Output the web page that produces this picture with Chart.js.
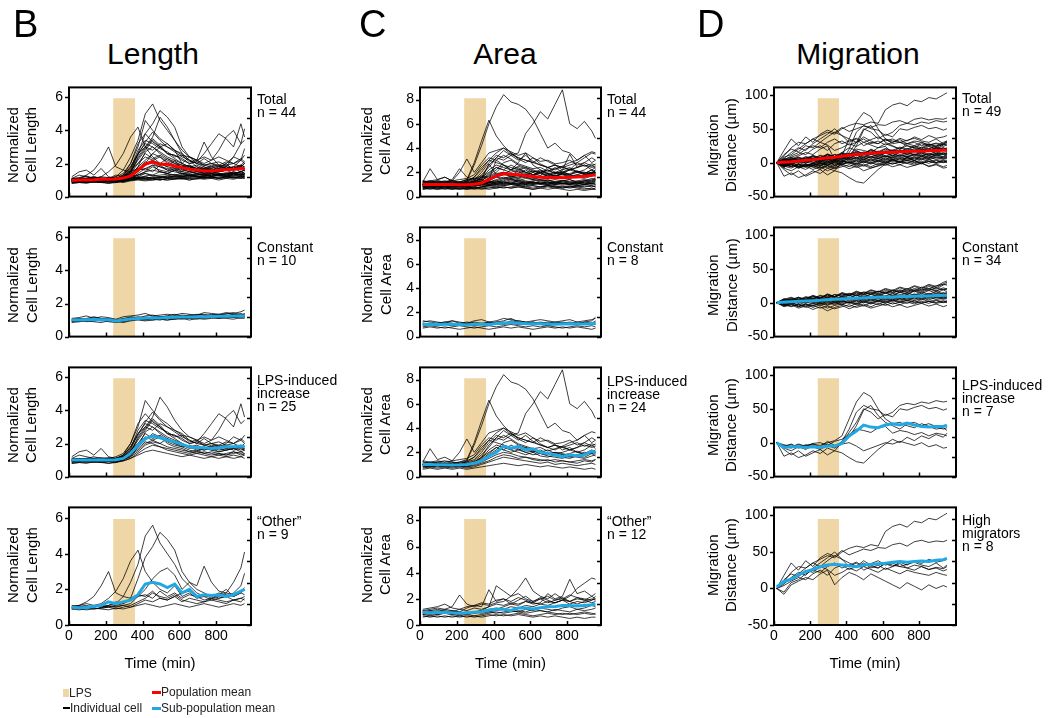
<!DOCTYPE html>
<html lang="en">
  <head>
    <meta charset="UTF-8" />
    <title>LPS cell shape and migration</title>
    <script src="https://cdn.jsdelivr.net/npm/chart.js"></script>
    <style>
      body {
        margin: 0;
        width: 1052px;
        height: 718px;
        background: #fff;
        position: relative;
        overflow: hidden;
        font-family: "Liberation Sans", Arial, sans-serif;
        color: #000;
      }
      canvas,
      .txt {
        position: absolute;
      }
      .letter {
        font-size: 38px;
        line-height: 38px;
      }
      .title {
        font-size: 30px;
        line-height: 30px;
        width: 200px;
        text-align: center;
      }
      .ytitle {
        font-size: 15px;
        line-height: 18.5px;
        width: 37px;
        height: 160px;
        text-align: center;
        writing-mode: vertical-rl;
        transform: rotate(180deg);
        white-space: nowrap;
      }
      .xtitle {
        font-size: 15px;
        line-height: 16px;
        width: 180px;
        text-align: center;
      }
      .group {
        font-size: 14px;
        line-height: 13px;
        white-space: nowrap;
      }
      .legend {
        font-size: 12px;
        line-height: 14px;
        color: #222;
        white-space: nowrap;
      }
      .key {
        position: absolute;
      }
    </style>
  </head>
  <body>
    <script>
      // time axis shared by every trace (min)
      const timePoints = [15, 55, 95, 135, 175, 215, 255, 295, 335, 375, 415, 455, 495, 535, 575, 615, 655, 695, 735, 775, 815, 855, 895, 935, 955];
      const lpsStart = 240;
      const lpsEnd = 360;
      const lpsLevel = 1;

      // tick labels
      const timeTicks = [0, 200, 400, 600, 800];
      const lengthTicks = [0, 2, 4, 6];
      const areaTicks = [0, 2, 4, 6, 8];
      const migrationTicks = [-50, 0, 50, 100];
      const lpsAxisTicks = [0, 0.2, 0.4, 0.6, 0.8, 1.0];

      // ---- cell length ----
      const lengthConstant = [
        [1.0, 0.95, 1.05, 1.0, 1.1, 1.0, 0.95, 1.05, 1.1, 1.15, 1.2, 1.1, 1.15, 1.2, 1.25, 1.2, 1.3, 1.25, 1.2, 1.3, 1.35, 1.25, 1.3, 1.4, 1.3],
        [0.9, 1.0, 0.9, 0.95, 1.0, 0.9, 0.85, 0.95, 1.0, 1.05, 1.0, 1.1, 1.05, 1.0, 1.1, 1.15, 1.1, 1.05, 1.15, 1.2, 1.1, 1.15, 1.2, 1.1, 1.15],
        [1.1, 1.15, 1.25, 1.1, 1.2, 1.15, 1.05, 1.2, 1.25, 1.3, 1.4, 1.25, 1.3, 1.35, 1.3, 1.4, 1.35, 1.3, 1.45, 1.4, 1.35, 1.45, 1.4, 1.5, 1.6],
        [0.95, 0.9, 1.0, 1.05, 0.95, 1.0, 0.9, 1.0, 1.05, 1.1, 1.05, 1.15, 1.2, 1.1, 1.15, 1.1, 1.2, 1.25, 1.15, 1.2, 1.3, 1.2, 1.25, 1.3, 1.2],
        [1.05, 1.1, 1.0, 1.15, 1.05, 1.1, 1.0, 0.95, 1.1, 1.2, 1.15, 1.1, 1.2, 1.25, 1.2, 1.3, 1.25, 1.35, 1.3, 1.25, 1.3, 1.4, 1.35, 1.3, 1.4],
        [0.85, 0.9, 0.95, 0.9, 0.85, 0.95, 0.9, 0.85, 0.95, 1.0, 0.95, 1.0, 1.05, 1.0, 1.05, 1.1, 1.0, 1.1, 1.05, 1.1, 1.15, 1.1, 1.05, 1.15, 1.1],
        [1.0, 1.05, 1.1, 1.2, 1.1, 1.05, 1.0, 1.1, 1.15, 1.1, 1.25, 1.3, 1.2, 1.15, 1.25, 1.2, 1.3, 1.2, 1.25, 1.35, 1.3, 1.25, 1.35, 1.3, 1.35],
        [0.95, 1.0, 0.95, 1.0, 1.05, 0.95, 0.9, 0.95, 1.0, 1.1, 1.05, 1.0, 1.1, 1.15, 1.1, 1.05, 1.15, 1.2, 1.1, 1.15, 1.2, 1.25, 1.15, 1.2, 1.25],
        [1.05, 0.95, 1.05, 1.1, 1.0, 1.05, 0.95, 1.05, 1.2, 1.15, 1.1, 1.2, 1.15, 1.25, 1.35, 1.25, 1.2, 1.3, 1.35, 1.25, 1.3, 1.35, 1.45, 1.3, 1.35],
        [0.9, 0.95, 1.0, 0.95, 1.0, 1.05, 0.95, 0.9, 1.0, 1.05, 1.1, 1.05, 1.0, 1.1, 1.05, 1.15, 1.1, 1.15, 1.2, 1.15, 1.1, 1.2, 1.15, 1.25, 1.2],
      ];
      const lengthLps = [
        [1.0, 1.05, 0.95, 1.0, 1.05, 1.0, 1.1, 1.3, 1.8, 2.6, 3.2, 3.0, 2.7, 2.4, 2.2, 2.0, 1.8, 1.9, 1.7, 1.8, 1.6, 1.7, 1.8, 1.6, 1.7],
        [0.9, 0.95, 1.0, 0.9, 0.95, 0.9, 1.0, 1.2, 1.5, 2.2, 2.8, 3.4, 3.0, 2.6, 2.5, 2.2, 2.0, 2.1, 1.9, 1.8, 1.9, 1.7, 1.8, 1.9, 1.8],
        [1.1, 1.3, 1.2, 1.1, 1.0, 1.1, 1.2, 1.4, 2.0, 3.0, 4.6, 4.0, 3.5, 3.2, 2.8, 2.6, 2.2, 2.0, 2.3, 2.0, 1.9, 2.1, 2.0, 1.8, 2.0],
        [0.8, 0.85, 0.9, 0.85, 0.9, 0.8, 0.85, 1.0, 1.3, 1.8, 2.2, 2.6, 2.4, 2.0, 1.8, 1.7, 1.5, 1.6, 1.4, 1.5, 1.4, 1.3, 1.5, 1.4, 1.3],
        [1.0, 1.1, 1.0, 1.05, 1.0, 1.1, 1.0, 1.1, 1.4, 2.4, 3.0, 3.6, 4.8, 4.2, 3.4, 2.8, 2.4, 2.2, 1.9, 2.0, 1.8, 1.9, 1.7, 1.8, 1.7],
        [1.2, 1.5, 1.6, 1.3, 1.7, 1.2, 1.1, 1.2, 1.6, 2.0, 2.6, 2.3, 2.5, 2.2, 2.0, 1.8, 1.9, 1.7, 1.6, 1.8, 1.7, 1.6, 1.7, 1.9, 1.8],
        [0.9, 0.9, 0.95, 1.0, 0.9, 0.95, 0.9, 1.0, 1.2, 1.5, 1.9, 2.1, 2.0, 1.8, 1.7, 1.6, 1.5, 1.4, 1.5, 1.4, 1.3, 1.4, 1.5, 1.3, 1.4],
        [1.0, 0.95, 1.0, 1.1, 1.05, 1.0, 1.05, 1.2, 1.7, 2.8, 3.4, 3.2, 2.9, 2.7, 2.4, 2.5, 2.1, 2.2, 2.4, 2.2, 2.8, 3.6, 4.0, 3.2, 3.4],
        [1.05, 1.0, 1.1, 1.0, 1.05, 1.1, 1.0, 1.1, 1.5, 2.3, 2.9, 3.5, 3.1, 2.6, 2.3, 2.0, 1.8, 1.7, 1.8, 1.6, 1.7, 1.8, 1.6, 1.7, 1.6],
        [0.95, 1.0, 0.9, 1.0, 0.95, 1.0, 0.95, 1.0, 1.3, 1.6, 2.0, 2.2, 2.4, 2.1, 1.9, 1.8, 1.6, 1.5, 1.7, 1.6, 1.5, 1.6, 1.7, 1.5, 1.6],
        [1.0, 1.05, 1.1, 1.05, 1.0, 1.05, 1.1, 1.3, 2.0, 3.2, 3.8, 3.3, 3.0, 2.6, 2.5, 2.3, 2.0, 2.1, 2.6, 3.2, 3.8, 3.5, 3.0, 4.4, 3.6],
        [0.85, 0.9, 0.85, 0.9, 0.85, 0.9, 0.85, 0.95, 1.1, 1.4, 1.7, 1.9, 1.8, 1.6, 1.5, 1.4, 1.3, 1.4, 1.3, 1.2, 1.3, 1.2, 1.3, 1.2, 1.3],
        [1.1, 1.05, 1.1, 1.2, 1.1, 1.15, 1.1, 1.2, 1.6, 2.6, 3.0, 2.8, 3.2, 3.0, 2.7, 2.4, 2.2, 2.0, 1.9, 2.0, 2.1, 1.9, 2.0, 2.2, 2.0],
        [0.9, 1.0, 0.95, 0.9, 1.0, 0.95, 1.0, 1.1, 1.4, 2.0, 2.4, 2.2, 2.0, 2.3, 2.1, 1.9, 1.7, 1.8, 1.6, 1.7, 1.5, 1.6, 1.7, 1.8, 1.6],
        [1.0, 0.9, 1.0, 0.95, 1.0, 0.9, 0.95, 1.05, 1.2, 1.8, 2.7, 3.0, 2.6, 2.3, 2.0, 1.9, 1.8, 1.6, 1.7, 1.9, 1.8, 2.0, 2.4, 2.2, 2.5],
        [0.95, 1.0, 1.05, 1.0, 0.95, 1.0, 1.05, 1.1, 1.3, 1.7, 2.1, 2.0, 1.8, 1.7, 1.6, 1.5, 1.4, 1.5, 1.4, 1.3, 1.4, 1.3, 1.4, 1.5, 1.4],
        [1.05, 1.1, 1.0, 1.1, 1.15, 1.05, 1.1, 1.25, 1.8, 2.5, 3.3, 3.9, 3.4, 3.0, 2.8, 2.5, 2.4, 2.2, 2.0, 2.2, 2.4, 2.2, 2.0, 2.3, 2.1],
        [0.8, 0.85, 0.8, 0.9, 0.85, 0.8, 0.9, 0.95, 1.1, 1.3, 1.5, 1.6, 1.5, 1.4, 1.3, 1.2, 1.3, 1.2, 1.1, 1.2, 1.1, 1.2, 1.1, 1.2, 1.1],
      ];
      const lengthOther = [
        [1.0, 1.1, 1.3, 1.6, 2.2, 3.0, 1.8, 1.6, 1.5, 1.7, 1.6, 1.9, 1.5, 1.4, 1.6, 1.3, 1.5, 1.4, 1.3, 1.5, 1.4, 1.3, 1.4, 1.5, 1.4],
        [0.9, 1.0, 0.95, 1.1, 1.2, 1.5, 1.9, 2.6, 3.6, 4.2, 3.0, 2.4, 2.0, 1.8, 2.2, 1.6, 1.8, 1.5, 1.6, 1.4, 1.5, 1.6, 1.4, 1.5, 1.6],
        [1.0, 0.95, 1.0, 1.05, 1.0, 1.1, 1.2, 1.6, 2.4, 3.4, 5.0, 5.6, 4.6, 4.0, 3.4, 2.6, 2.2, 1.8, 1.6, 1.7, 1.5, 1.6, 1.8, 2.2, 2.9],
        [1.1, 1.05, 1.0, 1.1, 1.0, 1.05, 1.1, 1.2, 1.5, 2.6, 3.8, 4.4, 5.2, 4.8, 4.2, 3.0, 2.4, 2.0, 1.8, 1.6, 1.8, 1.7, 1.6, 1.8, 2.0],
        [0.9, 0.95, 1.0, 0.9, 0.95, 1.0, 1.05, 1.1, 1.2, 1.6, 2.0, 2.6, 3.0, 3.2, 2.8, 2.0, 2.4, 2.2, 3.3, 2.4, 1.9, 1.8, 1.7, 1.9, 2.1],
        [1.0, 1.05, 1.1, 1.0, 1.1, 1.05, 1.0, 1.1, 1.0, 1.2, 1.4, 1.3, 1.5, 1.4, 1.6, 1.8, 1.9, 1.6, 1.7, 1.5, 1.6, 1.8, 2.4, 3.2, 4.1],
        [0.95, 0.9, 0.85, 0.9, 0.95, 1.0, 0.9, 1.0, 1.1, 1.3, 1.5, 1.8, 1.6, 1.5, 1.7, 1.4, 1.3, 1.2, 1.3, 1.4, 1.3, 1.2, 1.4, 1.3, 1.5],
        [1.05, 1.1, 1.2, 1.1, 1.0, 1.1, 1.3, 1.2, 1.4, 1.6, 1.7, 1.5, 1.9, 1.6, 1.8, 1.5, 1.7, 1.6, 1.4, 1.5, 1.7, 2.0, 1.6, 1.8, 1.7],
        [0.9, 0.85, 0.9, 0.95, 0.9, 0.85, 0.95, 0.9, 1.0, 1.1, 1.2, 1.1, 1.0, 1.1, 1.2, 1.1, 1.0, 1.1, 1.2, 1.1, 1.0, 1.1, 1.2, 1.1, 1.2],
      ];
      const lengthMeanTotal = [0.98, 1.0, 1.0, 1.02, 1.05, 1.05, 1.07, 1.12, 1.25, 1.6, 1.95, 2.1, 1.95, 1.95, 1.85, 1.75, 1.65, 1.6, 1.55, 1.55, 1.6, 1.62, 1.65, 1.7, 1.7];
      const lengthMeanConstant = [1.0, 1.0, 1.02, 1.03, 1.02, 1.02, 0.95, 1.0, 1.07, 1.1, 1.12, 1.12, 1.13, 1.15, 1.17, 1.18, 1.18, 1.2, 1.2, 1.22, 1.23, 1.23, 1.24, 1.26, 1.25];
      const lengthMeanLps = [1.0, 1.0, 1.0, 1.0, 1.0, 1.0, 1.02, 1.1, 1.4, 1.9, 2.3, 2.45, 2.35, 2.2, 2.1, 1.95, 1.8, 1.75, 1.75, 1.7, 1.75, 1.8, 1.8, 1.85, 1.8];
      const lengthMeanOther = [1.0, 0.97, 0.97, 1.05, 1.1, 1.3, 1.2, 1.3, 1.4, 1.7, 2.3, 2.4, 2.3, 2.1, 2.3, 1.8, 2.0, 1.6, 1.7, 1.65, 1.7, 1.6, 1.7, 1.9, 2.0];

      // ---- cell area ----
      const areaConstant = [
        [1.0, 1.1, 0.9, 1.0, 1.1, 1.0, 0.9, 1.0, 1.1, 1.2, 1.0, 1.1, 1.2, 1.1, 1.0, 1.1, 1.0, 0.9, 1.0, 1.1, 1.0, 1.1, 1.0, 1.1, 1.2],
        [0.8, 0.9, 0.8, 0.7, 0.8, 0.9, 0.8, 0.7, 0.8, 0.9, 0.8, 0.9, 1.0, 0.9, 0.8, 0.9, 0.8, 0.9, 0.8, 0.7, 0.8, 0.9, 0.8, 0.9, 0.8],
        [1.2, 1.3, 1.2, 1.1, 1.3, 1.2, 1.1, 1.3, 1.4, 1.2, 1.3, 1.5, 1.4, 1.3, 1.2, 1.3, 1.4, 1.3, 1.2, 1.3, 1.4, 1.2, 1.3, 1.4, 1.5],
        [0.9, 1.0, 1.1, 1.0, 0.9, 1.0, 1.1, 0.9, 1.0, 1.1, 1.2, 1.3, 1.5, 1.2, 1.1, 1.0, 1.1, 1.2, 1.1, 1.0, 1.1, 1.0, 1.2, 1.1, 1.0],
        [1.1, 1.0, 1.1, 1.2, 1.1, 1.0, 0.9, 1.1, 1.0, 0.9, 1.1, 1.0, 1.1, 1.3, 1.2, 1.1, 1.2, 1.1, 1.0, 1.1, 1.2, 1.1, 1.0, 1.1, 1.3],
        [0.7, 0.8, 0.7, 0.8, 0.7, 0.6, 0.7, 0.8, 0.7, 0.6, 0.7, 0.8, 0.7, 0.8, 0.7, 0.6, 0.7, 0.8, 0.7, 0.8, 0.7, 0.8, 0.7, 0.6, 0.7],
        [1.0, 0.9, 1.0, 1.1, 1.0, 1.1, 1.0, 1.2, 1.1, 1.0, 1.2, 1.1, 1.3, 1.2, 1.1, 1.2, 1.0, 1.1, 1.2, 1.1, 1.0, 1.2, 1.1, 1.0, 1.1],
        [1.3, 1.2, 1.1, 1.2, 1.3, 1.1, 1.2, 1.1, 1.0, 1.2, 1.1, 1.2, 1.1, 1.0, 1.1, 1.2, 1.1, 1.0, 1.1, 1.2, 1.1, 1.0, 1.2, 1.3, 1.6],
      ];
      const areaLps = [
        [1.0, 1.1, 1.0, 0.9, 1.0, 1.1, 1.2, 1.6, 2.4, 3.0, 2.8, 2.6, 2.4, 2.2, 2.0, 2.1, 1.9, 1.8, 2.0, 1.9, 1.7, 1.8, 2.0, 1.9, 2.0],
        [1.2, 2.3, 1.4, 1.6, 1.3, 2.0, 3.1, 2.0, 2.8, 3.6, 3.8, 4.0, 3.7, 3.4, 3.6, 3.2, 2.9, 3.0, 2.7, 2.8, 3.0, 2.6, 2.8, 3.2, 3.0],
        [0.9, 1.0, 0.9, 1.0, 1.1, 1.0, 1.3, 2.6, 4.2, 6.0, 7.4, 8.4, 7.8, 7.6, 7.2, 6.4, 5.2, 4.0, 4.4, 3.8, 3.6, 3.0, 3.4, 2.8, 3.0],
        [1.0, 0.9, 1.0, 1.1, 1.0, 0.9, 1.0, 1.2, 1.6, 2.6, 3.2, 3.0, 3.4, 3.6, 5.2, 6.0, 7.0, 6.4, 7.6, 8.8, 6.0, 5.6, 6.2, 5.4, 4.8],
        [1.1, 1.0, 1.2, 1.1, 1.0, 1.2, 1.4, 2.8, 4.6, 6.3, 5.0, 4.2, 3.6, 3.2, 3.0, 2.8, 2.6, 2.4, 2.6, 2.4, 2.2, 2.4, 2.6, 2.4, 2.5],
        [0.8, 0.9, 0.8, 0.9, 0.8, 0.9, 0.8, 1.0, 1.3, 1.8, 2.2, 2.8, 3.0, 2.6, 2.4, 2.2, 2.0, 1.9, 1.7, 1.8, 1.6, 1.7, 1.8, 2.0, 1.9],
        [1.0, 1.1, 1.0, 1.1, 1.0, 1.0, 1.1, 1.3, 1.8, 2.4, 3.2, 3.8, 3.4, 3.0, 3.4, 2.9, 2.6, 2.4, 2.2, 2.5, 2.8, 3.0, 3.4, 3.7, 3.6],
        [0.9, 0.8, 0.9, 0.8, 0.9, 0.8, 0.9, 1.0, 1.2, 1.5, 1.8, 2.0, 1.9, 1.7, 1.6, 1.5, 1.4, 1.3, 1.4, 1.3, 1.2, 1.3, 1.4, 1.3, 1.4],
        [1.2, 1.1, 1.2, 1.3, 1.2, 1.1, 1.2, 1.4, 2.0, 2.8, 3.4, 3.2, 3.6, 3.1, 2.8, 3.2, 2.7, 2.4, 2.6, 2.2, 2.4, 2.0, 2.2, 2.6, 2.3],
        [1.0, 1.0, 1.1, 1.0, 0.9, 1.0, 1.1, 1.2, 1.5, 2.2, 2.6, 2.4, 2.2, 2.5, 2.3, 2.0, 2.2, 1.9, 2.0, 1.8, 1.9, 2.1, 1.8, 2.0, 2.2],
        [0.7, 0.8, 0.7, 0.8, 0.7, 0.8, 0.7, 0.8, 1.0, 1.2, 1.4, 1.6, 1.5, 1.4, 1.3, 1.2, 1.1, 1.2, 1.0, 1.1, 1.0, 0.9, 1.0, 1.1, 1.0],
        [1.1, 1.2, 1.1, 1.0, 1.1, 1.2, 1.3, 1.6, 2.2, 3.0, 3.6, 4.0, 3.5, 3.2, 3.0, 2.8, 3.2, 2.9, 2.6, 2.4, 2.6, 2.8, 2.5, 2.7, 2.6],
        [0.9, 1.0, 0.9, 1.0, 0.9, 1.0, 0.9, 1.1, 1.4, 1.9, 2.4, 2.2, 2.6, 2.3, 2.0, 1.8, 1.9, 1.7, 1.6, 1.5, 1.7, 1.6, 1.5, 1.7, 1.8],
        [1.0, 0.9, 1.0, 0.9, 1.0, 0.9, 1.0, 1.1, 1.3, 1.7, 2.0, 2.6, 2.2, 2.0, 1.8, 2.0, 1.7, 1.6, 1.8, 1.6, 1.5, 1.7, 1.6, 1.9, 1.7],
        [1.3, 1.2, 1.3, 1.2, 1.3, 1.4, 1.5, 1.8, 2.6, 3.2, 3.0, 3.4, 3.1, 2.7, 2.5, 2.3, 2.4, 2.1, 2.3, 2.5, 2.2, 2.4, 2.8, 2.5, 2.7],
        [0.8, 0.8, 0.9, 0.8, 0.8, 0.9, 0.8, 0.9, 1.1, 1.3, 1.6, 1.8, 1.7, 1.5, 1.6, 1.4, 1.3, 1.4, 1.2, 1.3, 1.2, 1.1, 1.3, 1.2, 1.4],
        [1.0, 1.1, 1.0, 1.1, 1.2, 1.1, 1.0, 1.2, 1.6, 2.0, 2.4, 2.2, 2.0, 2.2, 2.4, 2.1, 2.0, 2.2, 1.9, 2.0, 2.2, 2.0, 1.9, 2.2, 2.0],
        [0.6, 0.7, 0.6, 0.7, 0.6, 0.7, 0.6, 0.7, 0.8, 0.9, 1.0, 1.1, 1.0, 0.9, 1.0, 0.9, 0.8, 0.9, 0.8, 0.7, 0.8, 0.7, 0.6, 0.7, 0.6],
      ];
      const areaOther = [
        [1.0, 1.1, 1.0, 1.2, 1.1, 1.0, 1.3, 1.5, 1.4, 2.7, 1.8, 2.0, 1.6, 1.9, 2.2, 1.8, 2.0, 1.7, 1.9, 2.1, 1.8, 2.0, 1.9, 2.2, 2.0],
        [0.9, 0.8, 0.9, 1.0, 0.9, 0.8, 0.9, 1.0, 1.1, 1.4, 3.0, 2.6, 2.2, 2.4, 2.0, 1.8, 2.1, 1.9, 1.7, 1.9, 1.8, 1.6, 1.8, 2.0, 1.9],
        [1.1, 1.2, 1.3, 1.2, 1.4, 2.3, 1.6, 1.4, 1.6, 1.5, 1.7, 1.8, 2.2, 2.8, 3.6, 2.6, 2.2, 2.0, 2.4, 2.0, 1.8, 2.1, 1.9, 1.7, 1.8],
        [0.8, 0.9, 0.8, 0.9, 1.0, 0.9, 0.8, 0.9, 1.0, 1.1, 1.2, 1.4, 1.6, 1.5, 1.8, 1.6, 1.7, 2.4, 2.0, 2.2, 3.5, 2.4, 2.6, 2.2, 2.4],
        [1.0, 0.9, 1.0, 0.9, 0.8, 0.9, 1.0, 0.9, 1.0, 1.2, 1.3, 1.2, 1.4, 1.3, 1.5, 1.4, 1.6, 1.5, 1.7, 1.9, 2.2, 2.8, 3.2, 3.6, 3.5],
        [0.7, 0.6, 0.7, 0.6, 0.7, 0.6, 0.7, 0.6, 0.7, 0.8, 0.7, 0.8, 0.7, 0.8, 0.7, 0.6, 0.7, 0.6, 0.7, 0.6, 0.5, 0.6, 0.5, 0.6, 0.6],
        [1.2, 1.3, 1.4, 1.6, 1.3, 1.2, 1.4, 1.5, 1.7, 1.6, 1.9, 2.0, 1.8, 2.1, 1.9, 1.7, 2.0, 2.2, 1.9, 2.0, 2.3, 2.1, 2.0, 1.9, 2.2],
        [0.9, 1.0, 1.1, 1.0, 0.9, 1.0, 0.9, 1.0, 1.1, 1.0, 1.1, 1.2, 1.1, 1.0, 1.2, 1.1, 1.3, 1.2, 1.1, 1.3, 1.4, 1.2, 1.3, 1.5, 1.4],
        [0.6, 0.7, 0.6, 0.7, 0.6, 0.7, 0.6, 0.7, 0.6, 0.7, 0.8, 0.7, 0.8, 0.9, 0.8, 0.7, 0.8, 0.9, 0.8, 0.9, 0.8, 0.9, 1.0, 0.9, 0.8],
        [1.0, 1.1, 1.2, 1.1, 1.0, 1.2, 1.1, 1.3, 1.2, 1.4, 1.6, 1.5, 1.7, 1.6, 1.8, 1.7, 1.6, 1.8, 1.7, 1.9, 1.6, 1.8, 1.7, 1.9, 2.0],
        [0.8, 0.7, 0.8, 0.9, 0.8, 0.7, 0.8, 0.7, 0.8, 0.9, 1.0, 0.9, 1.0, 1.1, 1.0, 1.2, 1.1, 1.0, 1.2, 1.1, 1.0, 1.2, 1.1, 1.2, 1.3],
        [1.1, 1.0, 0.9, 1.0, 1.1, 1.0, 0.9, 1.0, 0.9, 1.0, 0.9, 1.0, 1.1, 1.0, 0.9, 1.0, 1.1, 1.0, 0.9, 0.8, 0.9, 0.8, 0.9, 0.8, 0.9],
      ];
      const areaMeanTotal = [1.0, 1.0, 0.99, 1.0, 1.0, 0.98, 0.97, 1.02, 1.12, 1.4, 1.7, 1.9, 1.85, 1.8, 1.72, 1.66, 1.6, 1.55, 1.6, 1.55, 1.6, 1.62, 1.68, 1.75, 1.78];
      const areaMeanConstant = [1.0, 1.02, 0.99, 1.01, 1.02, 0.99, 0.96, 1.01, 1.01, 1.0, 1.07, 1.11, 1.16, 1.12, 1.05, 1.05, 1.05, 1.04, 1.01, 1.04, 1.05, 1.04, 1.04, 1.06, 1.12];
      const areaMeanLps = [1.0, 1.0, 0.98, 0.97, 0.96, 0.97, 1.0, 1.1, 1.3, 1.7, 2.0, 2.5, 2.35, 2.5, 2.2, 2.3, 2.0, 1.9, 1.8, 1.65, 1.8, 1.7, 1.8, 2.1, 2.0];
      const areaMeanOther = [0.98, 0.93, 0.95, 0.96, 0.93, 0.92, 0.92, 0.98, 1.02, 1.15, 1.2, 1.2, 1.12, 1.3, 1.3, 1.22, 1.32, 1.4, 1.42, 1.5, 1.5, 1.45, 1.5, 1.55, 1.6];

      // ---- migration distance (um) ----
      const migrationConstant = [
        [0, 3, -2, 4, 1, 5, 2, 6, 3, 8, 5, 7, 4, 9, 6, 10, 7, 11, 8, 12, 9, 13, 10, 14, 12],
        [0, -4, -2, -6, -3, -5, -1, -4, 0, -3, 1, -2, 2, -1, 3, 0, 4, 1, 3, 0, 5, 2, 4, 1, 3],
        [0, 5, 8, 4, 9, 6, 11, 8, 12, 10, 14, 11, 16, 13, 17, 14, 18, 15, 19, 16, 20, 18, 22, 19, 21],
        [0, -3, 1, -5, -2, -7, -3, -8, -4, -2, -6, -1, -5, 0, -3, 2, -2, 1, -1, 3, 0, 2, -1, 1, 0],
        [0, 2, 6, 3, 7, 10, 6, 12, 8, 13, 10, 15, 12, 16, 13, 18, 15, 19, 16, 21, 18, 24, 20, 26, 28],
        [0, -2, 2, -1, 3, 0, 4, 1, 5, 2, 6, 3, 7, 4, 8, 5, 9, 6, 10, 7, 11, 8, 12, 9, 10],
        [0, 4, 1, 6, 2, 7, 4, 9, 5, 10, 7, 12, 8, 13, 10, 15, 11, 16, 13, 18, 15, 20, 17, 22, 20],
        [0, -6, -3, -8, -5, -10, -6, -12, -7, -4, -9, -5, -2, -6, -1, -4, 0, -3, 1, -2, 2, -1, 3, 0, 2],
        [0, 3, 5, 8, 4, 9, 7, 12, 9, 14, 11, 16, 14, 19, 16, 21, 18, 23, 20, 25, 22, 27, 24, 30, 32],
        [0, 1, -2, 2, -1, 3, 0, 4, 1, 3, 0, 5, 2, 6, 3, 7, 4, 8, 5, 9, 6, 10, 7, 8, 9],
        [0, -3, -6, -2, -5, -1, -4, 0, -3, 2, -1, 3, 0, 4, 1, 5, 2, 6, 3, 7, 4, 8, 5, 6, 7],
        [0, 5, 2, 7, 4, 9, 6, 11, 8, 13, 10, 14, 11, 15, 12, 16, 14, 18, 15, 19, 17, 21, 18, 20, 19],
        [0, 2, -1, 3, 0, 4, 1, 5, 2, 6, 4, 8, 5, 9, 6, 10, 8, 12, 9, 13, 10, 14, 11, 15, 13],
        [0, -5, -1, -6, -2, -4, 0, -3, 1, -2, 2, -1, 3, 0, 4, 1, 5, 2, 6, 3, 7, 4, 8, 5, 6],
        [0, 4, 7, 3, 8, 5, 10, 7, 12, 9, 13, 10, 15, 12, 17, 14, 19, 16, 21, 18, 23, 20, 25, 27, 26],
        [0, -1, 3, 0, 4, 1, -2, 2, -1, 3, 0, -3, 1, -2, 2, -1, 3, 0, 4, 1, -1, 2, 0, 3, 1],
        [0, 3, 0, 5, 2, 6, 3, 8, 4, 9, 6, 11, 7, 12, 9, 14, 10, 15, 12, 17, 13, 18, 14, 19, 16],
        [0, -2, -5, -3, -7, -4, -8, -5, -9, -6, -3, -7, -4, -8, -5, -2, -6, -3, -7, -4, -1, -5, -2, -6, -4],
        [0, 6, 3, 8, 5, 11, 7, 13, 9, 15, 12, 17, 13, 18, 15, 20, 16, 22, 18, 24, 20, 26, 22, 28, 30],
        [0, 1, 4, 2, 5, 3, 6, 4, 7, 5, 8, 6, 9, 7, 10, 8, 11, 9, 12, 10, 13, 11, 14, 12, 13],
        [0, -4, 0, -3, 1, -2, 2, -1, 3, 0, 4, 1, 5, 2, 6, 3, 7, 4, 8, 5, 9, 6, 10, 7, 8],
        [0, 2, 5, 1, 6, 3, 8, 4, 9, 6, 11, 7, 12, 8, 13, 9, 14, 10, 15, 11, 16, 12, 17, 13, 15],
      ];
      const migrationLps = [
        [0, -5, -8, -3, -6, -2, -4, 0, 3, 10, 35, 60, 74, 68, 50, 35, 28, 30, 25, 22, 28, 24, 20, 22, 18],
        [0, -8, -12, -6, -10, -4, -8, -2, -6, 2, 20, 45, 55, 50, 48, 40, 45, 55, 58, 56, 60, 58, 62, 60, 61],
        [0, -20, -15, -22, -18, -12, -16, -8, -12, 0, 15, 30, 50, 45, 35, 42, 38, 50, 48, 52, 55, 50, 52, 48, 50],
        [0, -10, -18, -12, -20, -15, -10, -18, -12, -15, -22, -28, -30, -20, -10, -2, 5, 0, 8, 3, 10, 6, 12, 8, 14],
        [0, -3, -6, -2, -5, -1, 0, -4, 2, 5, 12, 20, 18, 15, 22, 24, 14, 18, 16, 12, 15, 10, 14, 12, 10],
        [0, -6, -3, -8, -4, -2, -6, 2, -4, 0, 8, 25, 48, 55, 40, 30, 25, 20, 28, 30, 25, 28, 24, 20, 22],
        [0, -5, -2, -7, -3, -6, -10, -4, -8, -2, 0, -5, -12, -8, -4, 0, -2, 2, -1, -4, 0, -6, -3, -8, -7],
      ];
      const migrationHigh = [
        [0, 10, 22, 30, 28, 35, 40, 45, 42, 50, 55, 58, 56, 60, 58, 78, 85, 88, 84, 92, 90, 96, 94, 100, 103],
        [0, 18, 35, 25, 38, 30, 42, 48, 44, 52, 46, 50, 54, 52, 56, 55, 60, 62, 58, 64, 66, 63, 65, 64, 66],
        [0, -5, 8, 12, 20, 25, 22, 30, 35, 28, 32, 36, 30, 34, 38, 32, 35, 30, 33, 36, 32, 30, 35, 28, 32],
        [0, 6, 15, 22, 18, 28, 35, 42, 50, 40, 30, 35, 25, 30, 28, 35, 32, 30, 28, 25, 30, 26, 28, 24, 26],
        [0, 12, 20, 16, 25, 22, 30, 26, 18, 22, 28, 24, 30, 26, 22, 28, 24, 20, 25, 22, 20, 18, 22, 19, 18],
        [0, -8, 5, 10, 15, 12, 20, 25, 5, 15, 22, 18, 12, 20, 15, 10, 5, 0, 8, 3, -2, 5, 0, 4, 2],
        [0, 8, 12, 20, 28, 35, 30, 38, 45, 40, 35, 30, 38, 32, 28, 34, 30, 36, 32, 38, 34, 40, 36, 38, 40],
        [0, 4, 10, 15, 12, 20, 25, 18, 28, 32, 26, 30, 35, 28, 32, 26, 30, 34, 28, 32, 30, 26, 29, 27, 30],
      ];
      const migrationMeanTotal = [0, 1, 1.5, 2.5, 3.5, 4.5, 6, 7, 8, 9.5, 11, 12, 13, 14, 14.5, 15, 15.5, 16, 16.5, 17, 17, 17.5, 18, 18.5, 18.5];
      const migrationMeanConstant = [0, 1, 1.5, 2, 2.5, 3, 3.5, 4.5, 5, 5.5, 6, 6.5, 7, 7.5, 8, 8, 8.5, 9, 9, 9.5, 10, 10, 10.5, 11, 11];
      const migrationMeanLps = [0, -7, -6, -6, -7, -6, -7, -5, -5, -1, 10, 17, 26, 23, 22, 26, 28, 26, 29, 26, 24, 23, 24, 24, 26];
      const migrationMeanHigh = [2, 9.6, 12.7, 18.5, 23, 26, 29.7, 32, 33, 32, 31, 29.7, 32, 33, 34, 34.7, 36, 37, 36, 37, 37.5, 37, 38.5, 39.5, 41];

      const red = "#ff0000";
      const blue = "#1fa8e4";
      const lpsColor = "#efd6a6";

      // layout of the 3 x 4 grid
      const columns = [
        { left: 69, right: 251, xMax: 990, yMin: 0, yMax: 6.6, yTicks: lengthTicks, letter: "B", letterX: 13, title: "Length", titleX: 153, ytitle: ["Normalized", "Cell Length"], ytitleX: 22 },
        { left: 420, right: 601, xMax: 985, yMin: 0, yMax: 9, yTicks: areaTicks, letter: "C", letterX: 359, title: "Area", titleX: 505, ytitle: ["Normalized", "Cell Area"], ytitleX: 376 },
        { left: 774, right: 956, xMax: 1005, yMin: -50, yMax: 111, yTicks: migrationTicks, letter: "D", letterX: 697, title: "Migration", titleX: 858, ytitle: ["Migration", "Distance (µm)"], ytitleX: 722 },
      ];
      const rowTops = [85, 225, 365, 505];
      const plotH = 120;

      const panels = [
        { col: 0, row: 0, cells: [...lengthConstant, ...lengthLps, ...lengthOther], mean: lengthMeanTotal, color: red, label: ["Total", "n = 44"], capTop: 94 },
        { col: 0, row: 1, cells: lengthConstant, mean: lengthMeanConstant, color: blue, label: ["Constant", "n = 10"], capTop: 242 },
        { col: 0, row: 2, cells: lengthLps, mean: lengthMeanLps, color: blue, label: ["LPS-induced", "increase", "n = 25"], capTop: 375 },
        { col: 0, row: 3, cells: lengthOther, mean: lengthMeanOther, color: blue, label: ["\u201cOther\u201d", "n = 9"], capTop: 516 },
        { col: 1, row: 0, cells: [...areaConstant, ...areaLps, ...areaOther], mean: areaMeanTotal, color: red, label: ["Total", "n = 44"], capTop: 94 },
        { col: 1, row: 1, cells: areaConstant, mean: areaMeanConstant, color: blue, label: ["Constant", "n = 8"], capTop: 242 },
        { col: 1, row: 2, cells: areaLps, mean: areaMeanLps, color: blue, label: ["LPS-induced", "increase", "n = 24"], capTop: 376 },
        { col: 1, row: 3, cells: areaOther, mean: areaMeanOther, color: blue, label: ["\u201cOther\u201d", "n = 12"], capTop: 516 },
        { col: 2, row: 0, cells: [...migrationConstant, ...migrationLps, ...migrationHigh], mean: migrationMeanTotal, color: red, label: ["Total", "n = 49"], capTop: 93 },
        { col: 2, row: 1, cells: migrationConstant, mean: migrationMeanConstant, color: blue, label: ["Constant", "n = 34"], capTop: 242 },
        { col: 2, row: 2, cells: migrationLps, mean: migrationMeanLps, color: blue, label: ["LPS-induced", "increase", "n = 7"], capTop: 380 },
        { col: 2, row: 3, cells: migrationHigh, mean: migrationMeanHigh, color: blue, label: ["High", "migrators", "n = 8"], capTop: 515 },
      ];

      Chart.defaults.font.family = '"Liberation Sans", Arial, sans-serif';
      Chart.defaults.color = "#000";

      // box frame with Excel-like tick marks
      const framePlugin = {
        id: "frame",
        afterDraw(chart) {
          const { ctx, chartArea: a, scales } = chart;
          ctx.save();
          ctx.strokeStyle = "#000";
          ctx.lineWidth = 1.5;
          ctx.beginPath();
          scales.y.ticks.forEach((t) => {
            const py = Math.round(scales.y.getPixelForValue(t.value)) + 0.5;
            ctx.moveTo(a.left - 4, py);
            ctx.lineTo(a.left, py);
          });
          scales.x.ticks.forEach((t) => {
            const px = Math.round(scales.x.getPixelForValue(t.value)) + 0.5;
            ctx.moveTo(px, a.bottom);
            ctx.lineTo(px, a.bottom - 4);
          });
          scales.y2.ticks.forEach((t) => {
            const py = Math.round(scales.y2.getPixelForValue(t.value)) + 0.5;
            ctx.moveTo(a.right, py);
            ctx.lineTo(a.right - 4, py);
          });
          ctx.stroke();
          ctx.lineWidth = 2;
          ctx.strokeRect(a.left, a.top, a.right - a.left, a.bottom - a.top);
          ctx.restore();
        },
      };

      const series = (vals) => vals.map((v, i) => ({ x: timePoints[i], y: v }));
      const fixedTicks = (values) => (s) => {
        s.ticks = values.map((v) => ({ value: v }));
      };

      function addText(cls, html, left, top) {
        const d = document.createElement("div");
        d.className = "txt " + cls;
        d.innerHTML = html;
        d.style.left = left + "px";
        d.style.top = top + "px";
        document.body.appendChild(d);
        return d;
      }

      panels.forEach((p) => {
        const c = columns[p.col];
        const top = rowTops[p.row];
        const bottomRow = p.row === 3;
        const xh = bottomRow ? 24 : 6;
        const canvas = document.createElement("canvas");
        canvas.width = c.right - c.left + 70;
        canvas.height = 12 + plotH + xh;
        canvas.style.left = c.left - 60 + "px";
        canvas.style.top = top - 12 + "px";
        document.body.appendChild(canvas);

        const datasets = [];
        datasets.push({
          data: [
            { x: lpsStart, y: lpsLevel },
            { x: lpsEnd, y: lpsLevel },
          ],
          yAxisID: "y2",
          fill: "start",
          backgroundColor: lpsColor,
          borderWidth: 0,
          pointRadius: 0,
          order: 10,
        });
        p.cells.forEach((vals) => {
          datasets.push({
            data: series(vals),
            borderColor: "rgba(0,0,0,0.85)",
            borderWidth: 0.9,
            pointRadius: 0,
            fill: false,
            order: 2,
          });
        });
        datasets.push({
          data: series(p.mean),
          borderColor: p.color,
          borderWidth: 3,
          pointRadius: 0,
          fill: false,
          order: 0,
        });

        new Chart(canvas, {
          type: "line",
          data: { datasets },
          options: {
            responsive: false,
            animation: false,
            events: [],
            layout: { padding: { top: 12, right: 10, left: 0, bottom: 0 } },
            plugins: { legend: { display: false }, tooltip: { enabled: false } },
            scales: {
              x: {
                type: "linear",
                min: 0,
                max: c.xMax,
                grid: { display: false, drawTicks: false },
                border: { display: false },
                ticks: { display: bottomRow, autoSkip: false, padding: 3, maxRotation: 0, font: { size: 14 } },
                afterBuildTicks: fixedTicks(timeTicks),
                afterFit: (s) => {
                  s.height = xh;
                },
              },
              y: {
                min: c.yMin,
                max: c.yMax,
                grid: { display: false, drawTicks: false },
                border: { display: false },
                ticks: { autoSkip: false, padding: 6, font: { size: 14 } },
                afterBuildTicks: fixedTicks(c.yTicks),
                afterFit: (s) => {
                  s.width = 60;
                },
              },
              y2: {
                position: "right",
                min: 0,
                max: 1.11,
                grid: { display: false, drawTicks: false },
                border: { display: false },
                ticks: { display: false, autoSkip: false },
                afterBuildTicks: fixedTicks(lpsAxisTicks),
                afterFit: (s) => {
                  s.width = 0;
                },
              },
            },
          },
          plugins: [framePlugin],
        });

        addText("group", p.label.join("<br>"), c.right + 6, p.capTop - 1.3);
        if (bottomRow) {
          addText("xtitle", "Time (min)", (c.left + c.right) / 2 - 90, 655);
        }
        addText("ytitle", c.ytitle.join("<br>"), c.ytitleX - 18.5, top + plotH / 2 - 80);
      });

      columns.forEach((c) => {
        addText("title", c.title, c.titleX - 100, 39);
        addText("letter", c.letter, c.letterX, 5);
      });

      // legend
      const legendItems = [
        { text: "LPS", x: 63, y: 693, w: 6, h: 8, color: lpsColor },
        { text: "Individual cell", x: 63, y: 708, w: 7, h: 2, color: "#000" },
        { text: "Population mean", x: 152, y: 692, w: 9, h: 3, color: red },
        { text: "Sub-population mean", x: 152, y: 708, w: 9, h: 3, color: blue },
      ];
      legendItems.forEach((it) => {
        const sw = document.createElement("div");
        sw.className = "key";
        sw.style.width = it.w + "px";
        sw.style.height = it.h + "px";
        sw.style.background = it.color;
        sw.style.left = it.x + "px";
        sw.style.top = it.y - it.h / 2 + "px";
        document.body.appendChild(sw);
        addText("legend", it.text, it.x + it.w, it.y - 7);
      });
    </script>
  </body>
</html>
